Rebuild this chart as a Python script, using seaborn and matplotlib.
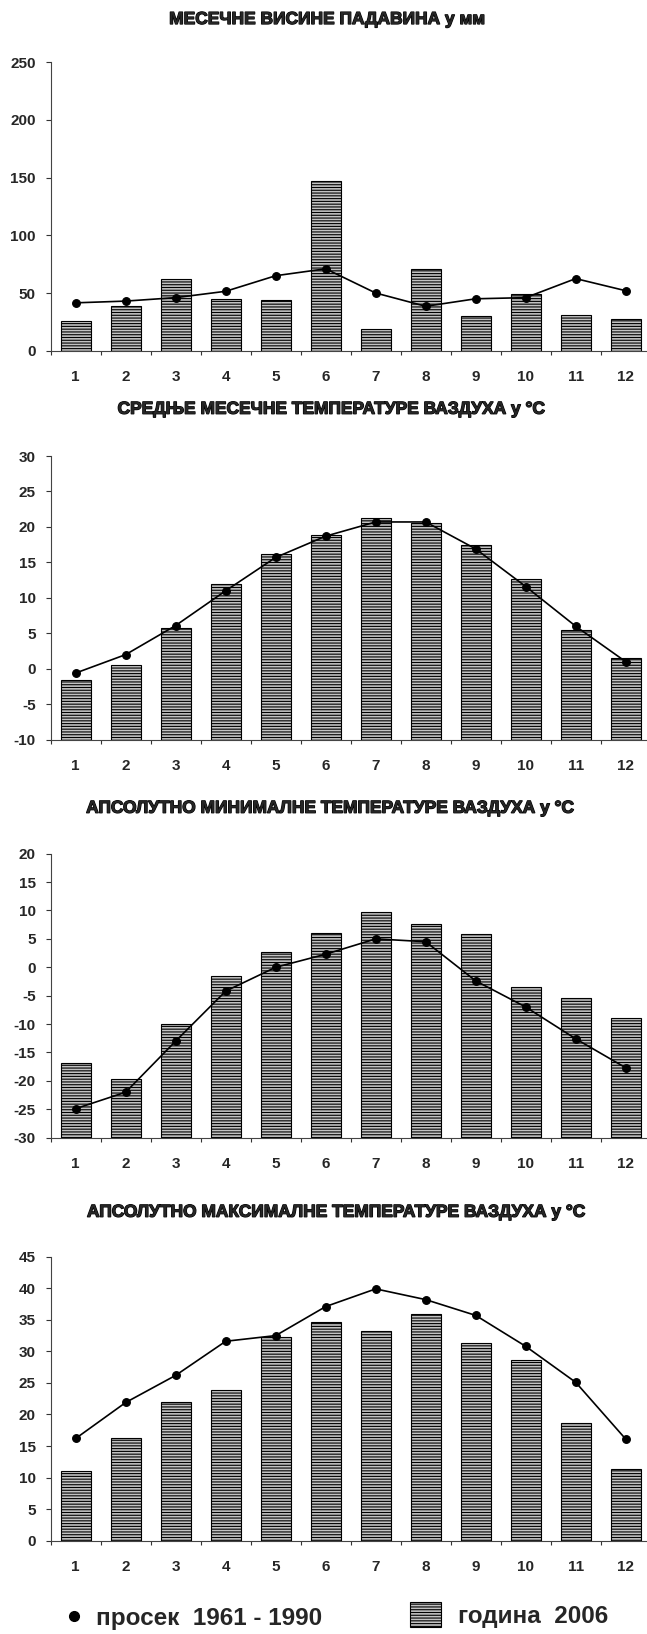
import numpy as np
import pandas as pd
import matplotlib
matplotlib.use("Agg")
import matplotlib.pyplot as plt
import matplotlib.patheffects as pe
from matplotlib.lines import Line2D
from matplotlib.patches import Patch
import seaborn as sns

months = [str(m) for m in range(1, 13)]

# padavine (mm)
precip_2006 = [26, 39, 62, 44.5, 44, 147.5, 18.5, 71, 30.5, 49.5, 31, 27.5]
precip_avg = [41.5, 43, 46, 51.5, 65, 71, 50, 38.5, 45, 46, 62.5, 52]

# srednje mesecne temperature
tmean_2006 = [-1.6, 0.5, 5.8, 12.0, 16.2, 18.9, 21.2, 20.6, 17.4, 12.7, 5.4, 1.5]
tmean_avg = [-0.6, 2.0, 6.1, 11.0, 15.7, 18.7, 20.7, 20.7, 16.9, 11.6, 6.0, 1.0]

# apsolutno minimalne temperature
tmin_2006 = [-16.9, -19.7, -10.0, -1.5, 2.6, 6.0, 9.7, 7.6, 5.9, -3.4, -5.5, -9.0]
tmin_avg = [-24.9, -22.0, -13.0, -4.2, 0.0, 2.3, 5.0, 4.5, -2.4, -7.0, -12.6, -17.7]

# apsolutno maksimalne temperature
tmax_2006 = [11.1, 16.3, 22.0, 23.8, 32.2, 34.7, 33.2, 35.9, 31.4, 28.7, 18.6, 11.4]
tmax_avg = [16.2, 21.9, 26.2, 31.6, 32.5, 37.1, 39.9, 38.2, 35.7, 30.8, 25.1, 16.1]

titles = [
    "МЕСЕЧНЕ ВИСИНЕ ПАДАВИНА у мм",
    "СРЕДЊЕ МЕСЕЧНЕ ТЕМПЕРАТУРЕ ВАЗДУХА у °C",
    "АПСОЛУТНО МИНИМАЛНЕ ТЕМПЕРАТУРЕ ВАЗДУХА у °C",
    "АПСОЛУТНО МАКСИМАЛНЕ ТЕМПЕРАТУРЕ ВАЗДУХА у °C",
]
legend_labels = ["просек  1961 - 1990", "година  2006"]

W, H = 647, 1634

panels = [
    dict(bars=precip_2006, line=precip_avg, lim=(0, 250), step=50,
         top=62.3, bottom=350.7, tx=327, ty=19.5),
    dict(bars=tmean_2006, line=tmean_avg, lim=(-10, 30), step=5,
         top=456, bottom=739.7, tx=331, ty=409),
    dict(bars=tmin_2006, line=tmin_avg, lim=(-30, 20), step=5,
         top=853.7, bottom=1137.6, tx=330, ty=808),
    dict(bars=tmax_2006, line=tmax_avg, lim=(0, 45), step=5,
         top=1256.7, bottom=1540.7, tx=336, ty=1212),
]

sns.set_theme(style="ticks")
plt.rcParams['font.family'] = ['Liberation Sans', 'DejaVu Sans']
plt.rcParams['font.weight'] = 'bold'
plt.rcParams['axes.unicode_minus'] = False
plt.rcParams['hatch.linewidth'] = 0.8

bar_face = '#c2c2c2'
hatch = '------'

fig = plt.figure(figsize=(W / 100, H / 100), dpi=100)

for p, title in zip(panels, titles):
    rect = [50.7 / W, 1 - p['bottom'] / H, 600 / W, (p['bottom'] - p['top']) / H]
    ax = fig.add_axes(rect)
    ymin, ymax = p['lim']
    df = pd.DataFrame({'month': months, 'val': p['bars'], 'avg': p['line']})
    # bars start from the bottom of the axis, like in Excel
    df['h'] = df['val'] - ymin
    sns.barplot(data=df, x='month', y='h', ax=ax, width=0.6, color=bar_face,
                saturation=1, bottom=ymin, edgecolor='black', linewidth=0.8,
                hatch=hatch)
    sns.pointplot(data=df, x='month', y='avg', ax=ax, color='black',
                  markers='o', markersize=5.5, linewidth=1.2, errorbar=None)

    ax.set_xlim(-0.5, 11.5)
    ax.set_ylim(ymin, ymax)
    ax.set_yticks(np.arange(ymin, ymax + 1, p['step']))
    ax.set_xticks(range(12))
    ax.set_xticklabels(months)
    ax.set_xticks(np.arange(-0.5, 12, 1), minor=True)
    ax.tick_params(axis='x', which='major', length=0, pad=14, labelsize=11)
    ax.tick_params(axis='x', which='minor', length=3, width=0.8,
                   direction='out', color='#333333')
    ax.tick_params(axis='y', length=3.6, width=0.8, pad=7, labelsize=11,
                   color='#333333')
    ax.set_xlabel('')
    ax.set_ylabel('')
    for side in ['top', 'right']:
        ax.spines[side].set_visible(False)
    for side in ['left', 'bottom']:
        ax.spines[side].set_color('#444444')
        ax.spines[side].set_linewidth(0.8)

    fig.text(p['tx'] / W, 1 - p['ty'] / H, title, ha='center', va='center',
             fontsize=12.5, fontweight='bold',
             path_effects=[pe.withStroke(linewidth=0.9, foreground='black')])

# legenda
h1 = Line2D([], [], marker='o', color='black', linestyle='none', markersize=7)
h2 = Patch(facecolor=bar_face, edgecolor='black', hatch=hatch, linewidth=0.8)
fig.legend(handles=[h1], labels=[legend_labels[0]], loc='center left',
           bbox_to_anchor=(64 / W, 1 - 1618 / H), frameon=False,
           prop=dict(size=17.5, weight='bold'), handlelength=0.8,
           handletextpad=0.5, borderpad=0, borderaxespad=0)
fig.legend(handles=[h2], labels=[legend_labels[1]], loc='center left',
           bbox_to_anchor=(410 / W, 1 - 1615 / H), frameon=False,
           prop=dict(size=17.5, weight='bold'), handlelength=1.28,
           handleheight=1.23, handletextpad=0.7, borderpad=0,
           borderaxespad=0)

fig.savefig('out.png', dpi=100)
